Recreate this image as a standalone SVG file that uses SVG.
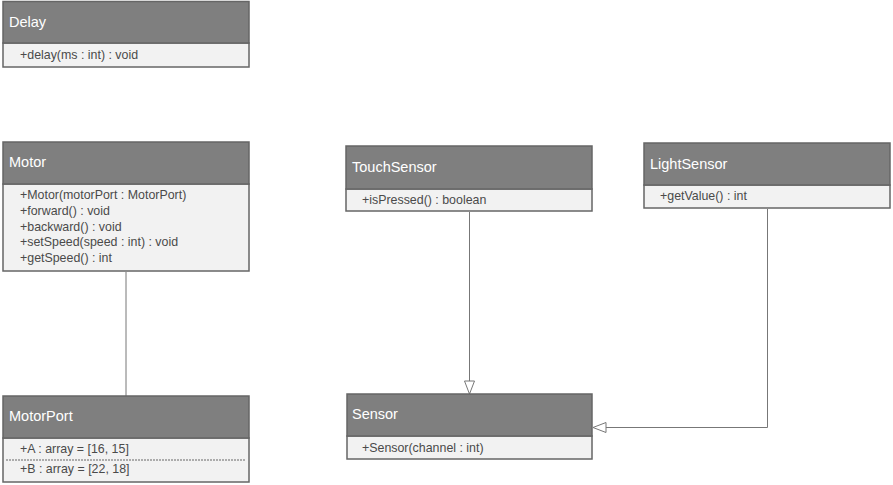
<svg xmlns="http://www.w3.org/2000/svg" width="893" height="485" viewBox="0 0 893 485">
<style>
.hd{fill:#7f7f7f;stroke:#666;stroke-width:1.5}
.bd{fill:#f2f2f2;stroke:#666;stroke-width:1.5}
.t{font-family:"Liberation Sans",Arial,sans-serif;font-size:14.5px;fill:#fff}
.m{font-family:"Liberation Sans",Arial,sans-serif;font-size:12.4px;fill:#4a4a4a}
.c{fill:none;stroke:#777;stroke-width:1}
</style>
<defs>
<marker id="tri" markerWidth="16" markerHeight="12" refX="14" refY="6" orient="auto" markerUnits="userSpaceOnUse">
<path d="M1,1 L14,6 L1,11 Z" fill="#fff" stroke="#777" stroke-width="1"/>
</marker>
</defs>
<rect width="893" height="485" fill="#fff"/>
<g id="connectors">
<line class="c" x1="126" y1="272" x2="126" y2="396"/>
<line class="c" x1="469.5" y1="212" x2="469.5" y2="394" marker-end="url(#tri)"/>
<polyline class="c" points="767.5,209 767.5,427.5 593,427.5" marker-end="url(#tri)"/>
</g>
<g id="Delay">
<rect class="bd" x="3" y="43" width="246" height="24"/>
<rect class="hd" x="3" y="1.5" width="246" height="41.5"/>
<text class="t" x="9" y="27">Delay</text>
<text class="m" x="20" y="59">+delay(ms : int) : void</text>
</g>
<g id="Motor">
<rect class="bd" x="3" y="184" width="246" height="87"/>
<rect class="hd" x="3" y="142" width="246" height="42"/>
<text class="t" x="9" y="167">Motor</text>
<text class="m" x="20" y="199">+Motor(motorPort : MotorPort)</text>
<text class="m" x="20" y="215">+forward() : void</text>
<text class="m" x="20" y="231">+backward() : void</text>
<text class="m" x="20" y="246">+setSpeed(speed : int) : void</text>
<text class="m" x="20" y="262">+getSpeed() : int</text>
</g>
<g id="MotorPort">
<rect class="bd" x="3" y="438" width="246" height="44"/>
<rect class="hd" x="3" y="396" width="246" height="42"/>
<text class="t" x="9" y="421">MotorPort</text>
<text class="m" x="20" y="453">+A : array = [16, 15]</text>
<line x1="6" y1="460" x2="246" y2="460" stroke="#666" stroke-width="1" stroke-dasharray="2,1"/>
<text class="m" x="20" y="473">+B : array = [22, 18]</text>
</g>
<g id="TouchSensor">
<rect class="bd" x="346" y="189" width="246" height="22"/>
<rect class="hd" x="346" y="146" width="246" height="43"/>
<text class="t" x="352" y="172">TouchSensor</text>
<text class="m" x="362" y="204">+isPressed() : boolean</text>
</g>
<g id="LightSensor">
<rect class="bd" x="644" y="185" width="246" height="23"/>
<rect class="hd" x="644" y="143" width="246" height="42"/>
<text class="t" x="650" y="169">LightSensor</text>
<text class="m" x="660" y="200">+getValue() : int</text>
</g>
<g id="Sensor">
<rect class="bd" x="347" y="436" width="245" height="23"/>
<rect class="hd" x="347" y="394" width="245" height="42"/>
<text class="t" x="352" y="419">Sensor</text>
<text class="m" x="362" y="452">+Sensor(channel : int)</text>
</g>
</svg>
